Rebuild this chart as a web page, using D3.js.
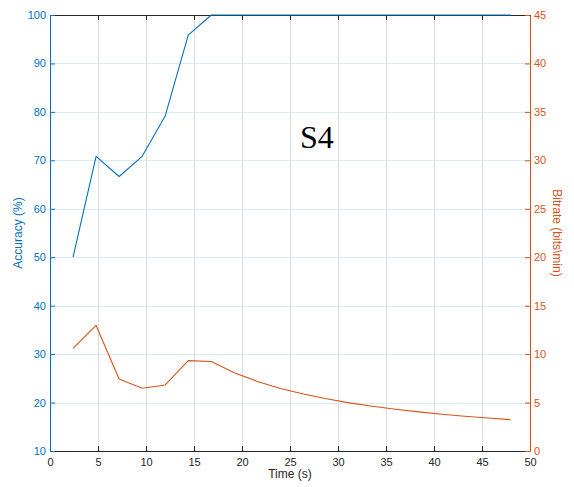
<!DOCTYPE html>
<html>
<head>
<meta charset="utf-8">
<script src="https://cdn.jsdelivr.net/npm/d3@7"></script>
<style>
  html, body { margin: 0; padding: 0; background: #fff; }
  svg { display: block; font-family: "Liberation Sans", Arial, Helvetica, sans-serif; }
</style>
</head>
<body>
<svg id="chart" width="574" height="487"></svg>
<script>
// Decision window lengths (s)
const timeValues = [2.4, 4.8, 7.2, 9.6, 12, 14.4, 16.8, 19.2, 21.6, 24, 26.4, 28.8, 31.2, 33.6, 36, 38.4, 40.8, 43.2, 45.6, 48];
// Classification accuracy (%) at each window length
const accuracyValues = [50, 70.83, 66.67, 70.83, 79.17, 95.83, 100, 100, 100, 100, 100, 100, 100, 100, 100, 100, 100, 100, 100, 100];
// Information transfer rate (bits/min) at each window length
const bitrateValues = [10.6, 12.96, 7.44, 6.48, 6.82, 9.33, 9.23, 8.08, 7.18, 6.46, 5.88, 5.39, 4.97, 4.62, 4.31, 4.04, 3.80, 3.59, 3.40, 3.23];

const xTicks = [0, 5, 10, 15, 20, 25, 30, 35, 40, 45, 50];
const leftTicks = [10, 20, 30, 40, 50, 60, 70, 80, 90, 100];
const rightTicks = [0, 5, 10, 15, 20, 25, 30, 35, 40, 45];

const xLabel = "Time (s)";
const leftLabel = "Accuracy (%)";
const rightLabel = "Bitrate (bits\\min)";
const subjectLabel = "S4";

const blue = "#0072BD";
const orange = "#D95319";
const dark = "#262626";

const svg = d3.select("#chart");
const margin = { left: 50, right: 44, top: 15, bottom: 36 };
const W = 574, H = 487;
const x0 = margin.left, x1 = W - margin.right;
const y0 = H - margin.bottom, y1 = margin.top;

const x = d3.scaleLinear().domain([0, 50]).range([x0, x1]);
const yL = d3.scaleLinear().domain([10, 100]).range([y0, y1]);
const yR = d3.scaleLinear().domain([0, 45]).range([y0, y1]);

// Snap a coordinate to the pixel grid so 1px lines stay crisp
const crisp = v => Math.round(v) + 0.5;

// Grid
const grid = svg.append("g");
grid.selectAll("line.v").data(xTicks.slice(1, -1)).join("line")
  .attr("x1", d => crisp(x(d))).attr("x2", d => crisp(x(d)))
  .attr("y1", y1).attr("y2", y0)
  .attr("stroke", "#dcdcdc").attr("stroke-width", 1);
grid.selectAll("line.h").data(leftTicks.slice(1, -1)).join("line")
  .attr("x1", x0).attr("x2", x1)
  .attr("y1", d => crisp(yL(d))).attr("y2", d => crisp(yL(d)))
  .attr("stroke", "#d9e9f5").attr("stroke-width", 1);

const tickLen = 5;
const fontTick = "11px";

function styleAxis(g, color, withText) {
  g.attr("font-family", null).attr("font-size", null);
  g.select(".domain").attr("stroke", color);
  g.selectAll(".tick line").attr("stroke", color);
  if (withText) g.selectAll(".tick text").attr("fill", color).style("font-size", fontTick);
}

// Bottom axis (ticks pointing inward)
const axisB = svg.append("g").attr("transform", `translate(0,${y0})`)
  .call(d3.axisBottom(x).tickValues(xTicks).tickSizeInner(-tickLen).tickSizeOuter(0).tickPadding(6));
styleAxis(axisB, dark, true);
axisB.selectAll(".tick text").attr("dy", "0.85em");

// Top border
const axisT = svg.append("g").attr("transform", `translate(0,${y1})`)
  .call(d3.axisTop(x).tickValues(xTicks).tickSizeInner(-tickLen).tickSizeOuter(0).tickFormat(""));
styleAxis(axisT, dark, false);

// Left axis
const axisL = svg.append("g").attr("transform", `translate(${x0},0)`)
  .call(d3.axisLeft(yL).tickValues(leftTicks).tickSizeInner(-tickLen).tickSizeOuter(0).tickPadding(4));
styleAxis(axisL, blue, true);

// Right axis
const axisR = svg.append("g").attr("transform", `translate(${x1},0)`)
  .call(d3.axisRight(yR).tickValues(rightTicks).tickSizeInner(-tickLen).tickSizeOuter(0).tickPadding(4));
styleAxis(axisR, orange, true);

// Data lines
const accLine = d3.line().x((d, i) => x(timeValues[i])).y(d => yL(d));
const bitLine = d3.line().x((d, i) => x(timeValues[i])).y(d => yR(d));

svg.append("path").datum(bitrateValues)
  .attr("d", bitLine).attr("fill", "none")
  .attr("stroke", orange).attr("stroke-width", 1.1).attr("stroke-linejoin", "round");
svg.append("path").datum(accuracyValues)
  .attr("d", accLine).attr("fill", "none")
  .attr("stroke", blue).attr("stroke-width", 1.1).attr("stroke-linejoin", "round");

// Axis titles
svg.append("text").attr("x", (x0 + x1) / 2).attr("y", 478)
  .attr("text-anchor", "middle").attr("fill", dark).style("font-size", "12px").text(xLabel);
svg.append("text").attr("transform", `translate(22,${(y0 + y1) / 2}) rotate(-90)`)
  .attr("text-anchor", "middle").attr("fill", blue).style("font-size", "12px").text(leftLabel);
svg.append("text").attr("transform", `translate(553,${(y0 + y1) / 2}) rotate(90)`)
  .attr("text-anchor", "middle").attr("fill", orange).style("font-size", "12px").text(rightLabel);

// Subject annotation
svg.append("text").attr("x", 300).attr("y", 148)
  .attr("font-family", "'Liberation Serif', 'Times New Roman', serif")
  .style("font-size", "32px").attr("fill", "#000").text(subjectLabel);
</script>
</body>
</html>
